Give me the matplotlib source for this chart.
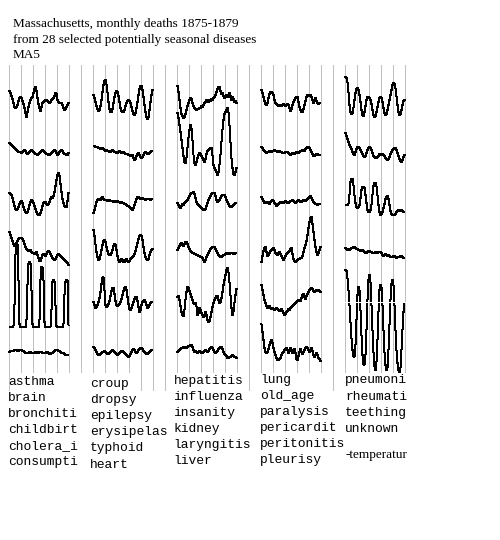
import numpy as np
import matplotlib
matplotlib.use("Agg")
import matplotlib.pyplot as plt
from matplotlib.patches import Rectangle

# monthly deaths 1875-1879, each series scaled and centred on its own row
# (60 months per series; positive = more deaths)
asthma = [9, 7, 4, 1, -3, -7, -8, -7, -5, -1, 2, 3,
          2, -1, -4, -8, -13, -17, -12, -7, -3, 0, 2, 3,
          7, 11, 13, 9, 2, -4, -8, -11, -7, -3, -2, -1,
          0, 0, -1, -2, -3, -2, 0, 1, 2, 4, 7, 6,
          0, -2, -3, -3, -3, -5, -8, -10, -9, -7, -5, -3]
brain = [7, 6, 5, 4, 3, 2, 1, 0, -1, -2, -2, -2,
         -3, -2, -1, 0, -1, -3, -4, -3, -2, -1, 0, -1,
         -2, -3, -4, -4, -5, -4, -3, -2, -1, 0, -1, -2,
         -3, -4, -4, -5, -5, -4, -3, -2, -1, 0, -1, -3,
         -5, -4, -2, -1, 0, -1, -3, -4, -4, -5, -5, -3]
bronchiti = [7, 6, 5, 2, -2, -6, -9, -10, -9, -7, -4, -2,
             -1, -3, -7, -10, -12, -13, -12, -9, -5, -2, 0, -1,
             -3, -6, -9, -12, -14, -15, -15, -13, -10, -6, -3, -2,
             -2, -4, -5, -4, -2, 1, 3, 2, 4, 8, 14, 20,
             25, 27, 24, 16, 8, 1, -3, -6, -7, -7, -1, 7]
childbirt = [18, 15, 12, 9, 6, 4, 5, 7, 9, 11, 12, 12,
             12, 11, 9, 6, 3, 1, 0, -1, 0, 0, -2, -3,
             -3, -4, -3, -2, -5, -8, -11, -11, -8, -5, -4, -5,
             -6, -4, -2, -1, -2, -4, -6, -8, -9, -10, -9, -7,
             -5, -4, -5, -6, -7, -8, -9, -10, -11, -12, -13, -15]
cholera_i = [-27, -27, -27, -27, -26, -5, 45, 57, 56, 20, -24, -27,
             -27, -27, -27, -27, -27, -20, 15, 36, 38, 37, 10, -24,
             -27, -27, -27, -27, -27, -27, -20, 20, 33, 33, 20, -22,
             -27, -27, -27, -27, -27, -27, -10, 18, 20, 19, -5, -26,
             -27, -27, -27, -27, -27, -27, -24, 5, 18, 20, 20, -25]
consumpti = [-2, -1, -1, -1, -1, 0, 0, 0, -1, -1, 0, 0,
             0, -1, -1, -2, -3, -3, -3, -3, -2, -2, -3, -3,
             -3, -3, -2, -2, -3, -3, -2, -2, -2, -3, -3, -3,
             -3, -2, -2, -3, -4, -4, -3, -3, -2, -1, 0, 0,
             0, -1, -1, -2, -3, -3, -3, -4, -5, -5, -5, -5]

croup = [5, 2, -2, -6, -9, -11, -10, -6, 0, 8, 15, 19,
         20, 16, 8, -2, -9, -12, -12, -9, -3, 3, 7, 9,
         8, 4, -2, -8, -11, -12, -12, -10, -6, -3, -1, 0,
         -1, -3, -7, -11, -14, -15, -13, -8, -2, 5, 11, 14,
         14, 10, 3, -5, -12, -17, -19, -17, -10, -2, 5, 10]
dropsy = [4, 4, 3, 3, 3, 2, 2, 1, 1, 2, 1, 0,
          -1, 0, -1, -1, -2, -2, -1, 0, -1, -2, -2, -3,
          -3, -2, -1, -2, -3, -3, -2, -3, -4, -4, -4, -5,
          -5, -6, -6, -5, -8, -10, -9, -6, -4, -3, -5, -7,
          -8, -7, -5, -3, -2, -3, -4, -4, -3, -2, -1, -1]
epilepsy = [-13, -10, -6, -2, 0, 1, 0, 0, 2, 3, 1, 0,
            0, 0, -1, 0, 0, -1, -1, -1, -2, -1, -2, -2,
            -1, -2, -2, -3, -2, -3, -3, -4, -4, -5, -6, -6,
            -7, -8, -9, -10, -8, -5, -2, 1, 3, 3, 2, 1,
            1, 2, 1, 1, 0, 1, 1, 1, 1, 0, 1, 1]
erysipelas = [20, 14, 6, -2, -7, -10, -9, -5, 0, 5, 9, 10,
              8, 3, -1, -4, -5, -5, -3, 0, 4, 6, 5, 0,
              -6, -10, -12, -11, -9, -10, -12, -12, -10, -9, -11, -12,
              -11, -9, -8, -7, -6, -4, -1, 3, 7, 11, 14, 15,
              14, 10, 3, -3, -7, -9, -10, -9, -5, -2, 0, 1]
typhoid = [-2, -5, -8, -7, -5, -2, 2, 8, 16, 22, 23, 10,
           -5, -7, -6, -4, -1, 4, 9, 12, 12, 6, -1, -5,
           -6, -5, -4, -2, 1, 5, 9, 12, 13, 10, 3, -4,
           -9, -10, -8, -5, -2, 1, 3, 3, -1, -7, -12, -10,
           -5, -2, -1, 0, -2, -5, -8, -7, -5, -3, -2, -2]
heart = [3, 2, 0, -2, -4, -5, -5, -4, -3, -2, -2, -1,
         -2, -3, -4, -4, -3, -2, -1, 0, -1, -2, -3, -4,
         -5, -4, -3, -2, -1, -1, -2, -3, -4, -5, -6, -7,
         -6, -4, -2, 0, 1, 0, -2, -3, -2, 0, 1, 2,
         2, 1, -1, -2, -3, -4, -4, -3, -2, -1, 0, 0]

hepatitis = [14, 8, 0, -8, -14, -16, -18, -17, -14, -10, -6, -3,
             0, 2, 1, -3, -6, -8, -9, -10, -9, -9, -8, -8,
             -6, -7, -5, -3, -2, 0, -1, -2, 0, -1, 1, 0,
             2, 3, 5, 8, 11, 13, 13, 9, 6, 7, 4, 2,
             3, 5, 5, 3, 7, 4, 0, 3, 1, -2, -1, -3]
influenza = [37, 32, 25, 18, 10, 2, -6, -12, -13, -8, 2, 12,
             20, 25, 22, 10, -5, -13, -15, -12, -8, -5, -3, -4,
             -6, -8, -10, -12, -9, -4, -1, 0, 1, 2, 2, -5,
             -15, -18, -20, -22, -25, -22, -15, -5, 8, 20, 30, 36,
             38, 40, 42, 38, 25, 8, -8, -18, -24, -25, -22, -18]
insanity = [-3, -5, -7, -8, -6, -4, -5, -3, -2, -1, 0, 2,
            4, 6, 7, 7, 8, 6, 2, -2, -4, -5, -6, -7,
            -8, -9, -10, -10, -9, -6, -3, 0, 2, 4, 6, 7,
            7, 7, 4, 0, -2, -1, 0, 2, 4, 5, 5, 5,
            3, 0, -2, -4, -6, -7, -7, -6, -5, -4, -3, -3]
kidney = [0, 2, 4, 6, 7, 5, 4, 6, 8, 8, 6, 3,
          1, -1, -2, -3, -3, -4, -4, -5, -5, -6, -6, -7,
          -7, -8, -10, -12, -10, -7, -5, -3, -1, 1, 2, 3,
          3, 3, 1, -1, -3, -5, -6, -7, -7, -6, -5, -5,
          -4, -3, -3, -4, -4, -3, -3, -3, -4, -4, -3, -3]
laryngitis = [3, 4, 0, -6, -12, -15, -16, -10, 0, 8, 13, 12,
              9, 6, 3, 0, -3, -4, -3, -6, -15, -13, -8, -10,
              -13, -15, -17, -16, -12, -15, -20, -22, -21, -17, -12, -7,
              -3, 0, 2, 4, 4, 0, -3, -2, 2, 8, 15, 20,
              25, 30, 32, 28, 18, 5, -8, -15, -12, -3, 5, 11]
liver = [-2, -1, 0, 1, 2, 2, 3, 3, 2, 2, 3, 4,
         4, 5, 5, 3, 0, -2, -1, -2, -3, -2, -1, -2,
         -3, -3, -2, -1, 0, -1, -2, -1, 1, 2, 3, 2,
         0, -2, -3, -2, -1, 1, 2, 3, 3, 1, -2, -4,
         -5, -6, -8, -8, -7, -7, -6, -5, -6, -7, -7, -8]

lung = [10, 7, 3, -1, -4, -5, -3, 2, 6, 8, 8, 7,
        5, 0, -3, -4, -5, -6, -5, -6, -6, -5, -4, -5,
        -6, -5, -4, -5, -8, -11, -9, -5, -2, 0, 2, 3,
        3, -2, -7, -10, -12, -12, -9, -5, -1, 3, 5, 5,
        4, 5, 3, 0, -3, 0, 2, -1, -3, -4, -3, -3]
old_age = [3, 2, 0, -1, -2, -3, -2, -2, -1, -2, -2, -1,
           -1, 0, -1, -1, -2, -1, -1, -2, -2, -3, -3, -3,
           -2, -2, -2, -3, -4, -5, -4, -3, -3, -4, -3, -2,
           -3, -3, -2, -1, -1, 0, -1, -1, 1, 2, 3, 3,
           2, 0, -2, -4, -6, -6, -5, -4, -4, -5, -5, -5]
paralysis = [3, 1, -1, -3, -3, -2, -2, -3, -4, -2, -1, 0,
             -1, -3, -4, -6, -5, -4, -3, -2, -2, -3, -3, -2,
             -1, -2, -3, -3, -2, -1, -1, 0, -1, -2, -3, -2,
             -1, 0, -1, -2, -2, -1, 0, 0, -1, 0, 1, 2,
             3, 4, 2, 0, -2, -3, -4, -4, -5, -4, -4, -4]
pericardit = [-12, -6, -1, 2, 3, -2, -6, -5, -3, -1, 0, 1,
              2, 0, -3, -4, -5, -3, -2, -4, -6, -8, -10, -8,
              -6, -4, -3, -2, -1, 1, 2, -4, -9, -11, -12, -11,
              -10, -9, -9, -8, -8, -6, -2, 2, 5, 9, 15, 22,
              28, 32, 33, 26, 18, 10, 3, -2, -5, -3, 0, 3]
peritonitis = [15, 10, 5, 0, -3, -6, -8, -7, -6, -8, -9, -8,
               -9, -10, -9, -8, -9, -10, -11, -10, -9, -11, -13, -15,
               -14, -12, -11, -9, -10, -8, -7, -6, -5, -4, -3, -2,
               -1, 0, 0, -1, 2, 5, 6, 3, 1, 4, 6, 8,
               10, 11, 12, 11, 9, 8, 9, 10, 9, 10, 9, 8]
pleurisy = [26, 18, 10, 2, -2, -3, -2, 1, 5, 8, 10, 7,
            2, -2, -5, -8, -10, -10, -9, -8, -5, -3, -2, 0,
            1, 2, 0, -3, -1, 2, 0, -3, -1, 1, -3, -9,
            -10, -6, -2, 1, -2, -4, -2, 0, 2, 3, 2, 0,
            -2, 0, 2, -1, -5, -7, -5, -3, -5, -8, -9, -11]

pneumoni = [23, 22, 18, 8, -5, -12, -14, -13, -8, 0, 7, 11,
            12, 10, 5, -2, -10, -15, -16, -12, -6, 0, 3, 3,
            2, 0, -4, -10, -15, -17, -16, -12, -7, -2, 2, 3,
            2, -2, -8, -13, -15, -14, -10, -5, 0, 5, 10, 15,
            17, 16, 12, 4, -5, -12, -15, -14, -10, -5, -1, 0]
rheumati = [17, 14, 11, 8, 5, 3, 1, -2, -4, -5, -2, 1,
            3, 3, 2, 0, -2, -4, -6, -7, -6, -3, 0, 2,
            3, 2, 0, -3, -6, -7, -8, -8, -7, -6, -4, -5,
            -5, -4, -5, -6, -8, -9, -10, -9, -7, -4, -2, 0,
            1, 2, 2, 0, -3, -6, -9, -11, -12, -10, -7, -5]
teething = [-5, -5, -5, -4, 5, 18, 21, 21, 15, 5, -3, -7,
            -8, -7, -5, 2, 10, 13, 13, 12, 5, -3, -10, -12,
            -12, -10, -5, 5, 14, 17, 17, 14, 5, -5, -12, -15,
            -14, -12, -8, -4, 1, 3, 4, 1, -5, -11, -14, -15,
            -15, -15, -14, -12, -11, -10, -11, -10, -10, -11, -12, -12]
unknown = [2, 1, 0, 1, 0, 1, 2, 2, 3, 3, 2, 1,
           1, 0, 0, -1, -1, 0, -1, -2, -3, -3, -2, -1,
           -1, -2, -2, -3, -3, -3, -2, -2, -3, -2, -2, -2,
           -3, -5, -6, -5, -4, -5, -6, -5, -6, -7, -7, -7,
           -6, -6, -7, -8, -7, -7, -7, -6, -6, -7, -8, -8]
neg_temperature = [30, 29, 22, 10, -5, -22, -38, -50, -56, -57, -45, -20,
                   5, 13, 10, -10, -35, -55, -64, -65, -55, -30, 0, 20,
                   25, 18, -5, -30, -52, -66, -70, -62, -40, -12, 10, 15,
                   13, -5, -30, -52, -65, -70, -68, -50, -25, 0, 16, 20,
                   15, -5, -30, -50, -63, -70, -72, -68, -50, -30, -12, -3]
temp_zero = -2

names = [
    ["asthma", "brain", "bronchiti", "childbirt", "cholera_i", "consumpti"],
    ["croup", "dropsy", "epilepsy", "erysipelas", "typhoid", "heart"],
    ["hepatitis", "influenza", "insanity", "kidney", "laryngitis", "liver"],
    ["lung", "old_age", "paralysis", "pericardit", "peritonitis", "pleurisy"],
    ["pneumoni", "rheumati", "teething", "unknown", "-temperatur"],
]
series = [
    [asthma, brain, bronchiti, childbirt, cholera_i, consumpti],
    [croup, dropsy, epilepsy, erysipelas, typhoid, heart],
    [hepatitis, influenza, insanity, kidney, laryngitis, liver],
    [lung, old_age, paralysis, pericardit, peritonitis, pleurisy],
    [pneumoni, rheumati, teething, unknown, neg_temperature],
]

W, H = 500, 540
col_gap = 84          # months between column starts (5 years + 2 blank)
row_step = 50
row0 = 100

fig = plt.figure(figsize=(W / 100, H / 100), dpi=100)
fig.patch.set_facecolor("white")
ax = fig.add_axes([0, 0, 1, 1])
ax.set_xlim(-9.5, W - 9.5)
ax.set_ylim(H, 0)
ax.axis("off")


def px(x, y):
    return x / W, 1 - y / H


# year lines
years = np.arange(34) * 12 - 1
ax.vlines(years, 65, 390, color="#c0c0c0", lw=0.72, antialiased=False, zorder=1)

months = np.arange(60)
for c, col in enumerate(series):
    for r, vals in enumerate(col):
        ax.plot(c * col_gap + months, row0 + r * row_step - np.array(vals),
                color="black", lw=0.72, antialiased=False, zorder=2)

# zero line of temperature
ax.hlines(row0 + 4 * row_step - temp_zero, 4 * col_gap - 2.5, 4 * col_gap + 59.5,
          color="white", lw=0.72, antialiased=False, zorder=2.5)

# white boxes behind the label block
boxes = [(9.5, 88), (89, 136), (170, 246), (254, 330), (338, 412)]
for x0, x1 in boxes:
    fx, fy = px(x0, 391)
    fig.add_artist(Rectangle((fx, fy), (x1 - x0) / W, 18 / H,
                             transform=fig.transFigure, facecolor="white",
                             edgecolor="none", zorder=3))

# title
title_lines = ["Massachusetts, monthly deaths 1875-1879",
               "from 28 selected potentially seasonal diseases",
               "MA5"]
for line, yb in zip(title_lines, [27, 43, 58]):
    fig.text(*px(13, yb), line, family="Liberation Serif", size=9.5,
             va="baseline", ha="left", zorder=4)

# labels
label_x = [8, 90, 173.5, 260, 345]
label_y0 = [385, 387, 384, 382.5, 383.5]
for c, col in enumerate(names):
    for r, nm in enumerate(col):
        if nm.startswith("-"):
            fig.text(*px(label_x[c] + 1, 458), nm, family="Liberation Serif",
                     size=9.5, va="baseline", ha="left", zorder=4)
        else:
            fig.text(*px(label_x[c], label_y0[c] + 16.1 * r), nm,
                     family="Liberation Mono", size=9.4,
                     va="baseline", ha="left", zorder=4)

fig.savefig("out.png", dpi=100, facecolor="white")
